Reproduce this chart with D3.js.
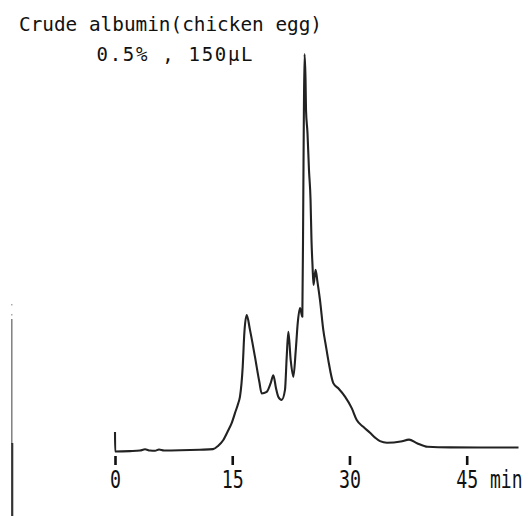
<!DOCTYPE html>
<html>
<head>
<meta charset="utf-8">
<script src="https://cdn.jsdelivr.net/npm/d3@7"></script>
<style>
  html, body { margin: 0; padding: 0; background: #fff; }
  svg { display: block; }
</style>
</head>
<body>
<svg id="chart" width="529" height="516"></svg>
<script>
// Elution time (min) and detector response (relative, main peak = 100)
const times = [
  0, 0.02, 1.92, 3.2, 3.84, 4.48, 5.12, 5.63, 6.27, 8.32, 10.88, 12.54,
  13.18, 13.86, 14.46, 14.94, 15.36, 15.78, 15.99, 16.34, 16.55, 16.85,
  17.27, 17.91, 18.46, 18.77, 19.41, 19.92, 20.26, 20.6, 20.89, 21.33,
  21.75, 21.97, 22.18, 22.48, 22.82, 23.13, 23.38, 23.67, 23.97, 24.09,
  24.16, 24.25, 24.38, 24.44, 24.63, 24.82, 25.02, 25.14, 25.27, 25.4,
  25.66, 25.91, 26.23, 26.65, 27.0, 27.29, 27.93, 28.57, 29.43, 30.29,
  30.93, 31.77, 32.63, 33.27, 33.91, 34.8, 36.56, 37.62, 38.64, 40.0,
  42.87, 51.63
];
const response = [
  4.9, 0, 0.1, 0.25, 0.55, 0.25, 0.2, 0.5, 0.25, 0.3, 0.45, 0.6,
  1.4, 2.9, 5.2, 7.2, 9.7, 12.2, 13.8, 21.3, 29.8, 34.3,
  30.6, 23.8, 17.6, 14.6, 15.0, 17.2, 19.2, 15.9, 13.8, 13.0,
  15.5, 23.8, 30.1, 23.0, 18.8, 25.5, 32.3, 36.1, 33.9, 63.3,
  83.4, 100, 93.5, 85.9, 80.1, 70.8, 63.3, 53.2, 46.9, 41.9,
  45.7, 42.6, 38.1, 30.6, 26.4, 23.0, 17.2, 15.9, 13.8, 10.9,
  7.9, 6.2, 4.7, 3.5, 2.6, 2.2, 2.5, 3.0, 2.1, 1.2,
  1.05, 1.0
];
const tickValues = [0, 15, 30, 45];
const unitLabel = "min";
const titleLines = ["Crude albumin(chicken egg)", "0.5% , 150\u03BCL"];

const svg = d3.select("#chart");
svg.append("rect").attr("width", 529).attr("height", 516).attr("fill", "#fff");

const x = d3.scaleLinear().domain([0, 45]).range([115, 466.7]);
const y = d3.scaleLinear().domain([0, 100]).range([451.5, 54]);

// Scanned frame edge on the left
svg.append("line")
  .attr("x1", 11.8).attr("x2", 11.8).attr("y1", 319).attr("y2", 444)
  .attr("stroke", "#777").attr("stroke-width", 1.4);
svg.append("line")
  .attr("x1", 12.2).attr("x2", 12.2).attr("y1", 443).attr("y2", 516)
  .attr("stroke", "#333").attr("stroke-width", 2.2);
[304, 314].forEach(v => svg.append("rect")
  .attr("x", 11).attr("y", v).attr("width", 1.5).attr("height", 1.5)
  .attr("fill", "#aaa"));

// Time axis: tick marks and labels only, no axis line
const axis = d3.axisBottom(x).tickValues(tickValues).tickSize(9).tickPadding(4)
  .tickFormat(d3.format("d"));
const gx = svg.append("g").attr("transform", "translate(0,456)").call(axis);
gx.select(".domain").remove();
gx.selectAll(".tick line").attr("stroke", "#111").attr("stroke-width", 2.6);
gx.selectAll(".tick text")
  .attr("y", 32).attr("dy", null)
  .attr("font-family", "'DejaVu Sans Mono', monospace")
  .attr("font-size", 24)
  .attr("fill", "#111")
  .attr("textLength", d => String(d).length * 11)
  .attr("lengthAdjust", "spacingAndGlyphs");

// Unit label, drawn narrow and tall like the tick digits
svg.append("text")
  .attr("transform", "translate(490,488) scale(1,1.4)")
  .attr("font-family", "'DejaVu Sans Mono', monospace")
  .attr("font-size", 18).attr("fill", "#111")
  .text(unitLabel);

// Sample description
svg.append("text")
  .attr("x", 19).attr("y", 31)
  .attr("font-family", "'DejaVu Sans Mono', monospace")
  .attr("font-size", 19).attr("fill", "#111")
  .attr("textLength", 303).attr("lengthAdjust", "spacingAndGlyphs")
  .text(titleLines[0]);
svg.append("text")
  .attr("x", 96.5).attr("y", 61)
  .attr("font-family", "'DejaVu Sans Mono', monospace")
  .attr("font-size", 19).attr("fill", "#111")
  .attr("textLength", 156).attr("lengthAdjust", "spacing")
  .text(titleLines[1]);

// Chromatogram trace
const pts = times.map((t, i) => [t, response[i]]);
const line = d3.line()
  .x(d => x(d[0]))
  .y(d => y(d[1]))
  .curve(d3.curveMonotoneX);
svg.append("path")
  .datum(pts)
  .attr("d", line)
  .attr("fill", "none")
  .attr("stroke", "#222")
  .attr("stroke-width", 2.1)
  .attr("stroke-linejoin", "round");
</script>
</body>
</html>
